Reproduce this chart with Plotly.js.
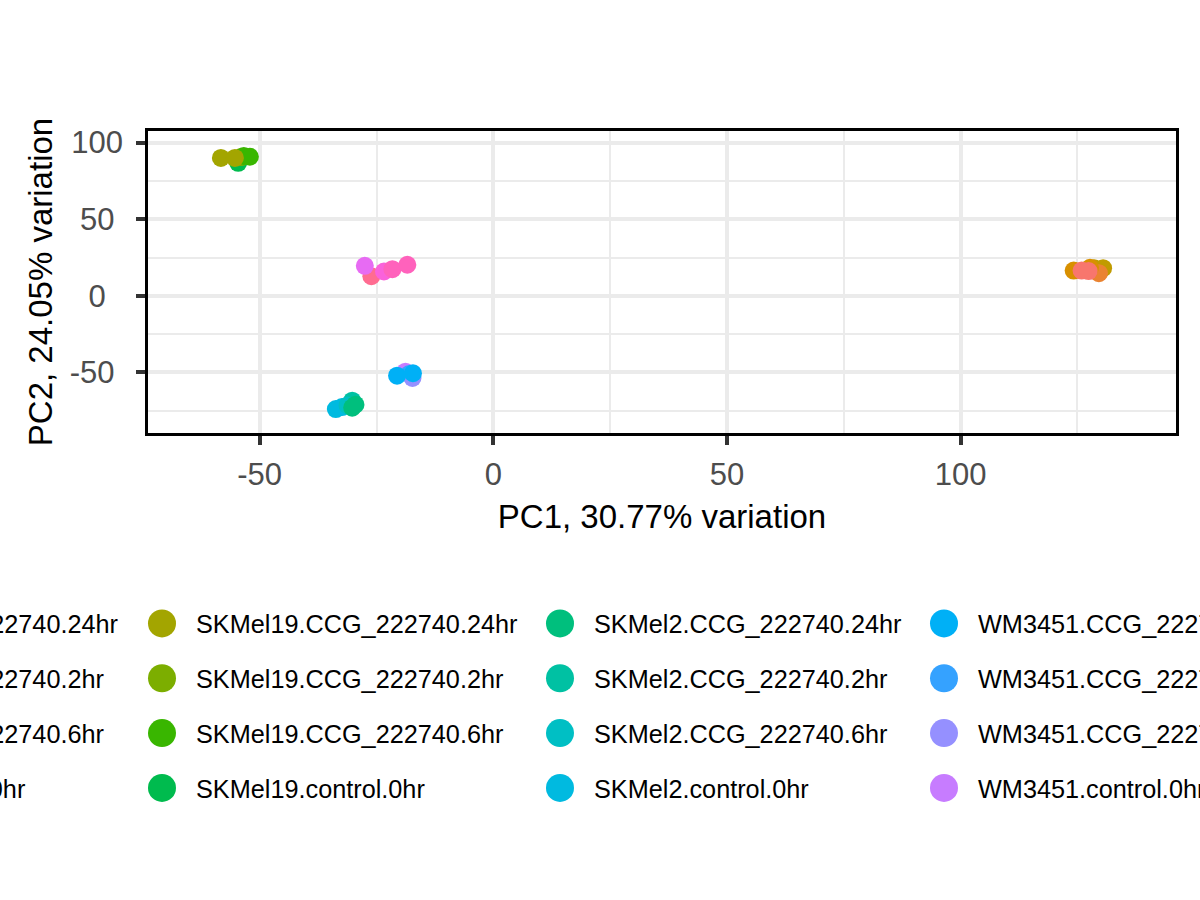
<!DOCTYPE html>
<html>
<head>
<meta charset="utf-8">
<script src="https://cdn.plot.ly/plotly-3.0.1.min.js"></script>
<style>
  html, body { margin: 0; padding: 0; background: #fff; overflow: hidden; }
  /* the figure is wider than the window so the outer legend columns run off both edges */
  #plot { width: 2200px; height: 900px; margin-left: -300px; }
</style>
</head>
<body>
<div id="plot"></div>
<script>
// PCA biplot: PC1 vs PC2, one colour per cell line / treatment group

var cellLines = ["A375", "SKMel19", "SKMel2", "WM3451", "WM793"];
var conditions = ["CCG_222740.24hr", "CCG_222740.2hr", "CCG_222740.6hr", "control.0hr"];

// ggplot hue palette, in legend order (cell line, then condition)
var groupColours = [
  "#F8766D", "#EA8331", "#D89000", "#C09B00",
  "#A3A500", "#7CAE00", "#39B600", "#00BB4E",
  "#00BF7D", "#00C1A3", "#00BFC4", "#00BAE0",
  "#00B0F6", "#35A2FF", "#9590FF", "#C77CFF",
  "#E76BF3", "#FA62DB", "#FF62BC", "#FF6C91"
];

// conditions in the order the points are drawn (first = bottom)
var drawOrder = ["control.0hr", "CCG_222740.2hr", "CCG_222740.6hr", "CCG_222740.24hr"];

// per-sample scores
var sampleGroup = [
  "A375.control.0hr", "A375.control.0hr", "SKMel19.control.0hr",
  "SKMel2.control.0hr", "SKMel2.control.0hr", "WM3451.control.0hr", "WM793.control.0hr",
  "A375.CCG_222740.2hr", "SKMel19.CCG_222740.2hr", "SKMel2.CCG_222740.2hr",
  "WM3451.CCG_222740.2hr", "WM793.CCG_222740.2hr",
  "A375.CCG_222740.6hr", "A375.CCG_222740.6hr", "SKMel19.CCG_222740.6hr", "SKMel19.CCG_222740.6hr",
  "SKMel2.CCG_222740.6hr", "WM3451.CCG_222740.6hr", "WM793.CCG_222740.6hr", "WM793.CCG_222740.6hr",
  "A375.CCG_222740.24hr", "A375.CCG_222740.24hr", "SKMel19.CCG_222740.24hr", "SKMel19.CCG_222740.24hr",
  "SKMel2.CCG_222740.24hr", "SKMel2.CCG_222740.24hr", "WM3451.CCG_222740.24hr", "WM3451.CCG_222740.24hr",
  "WM793.CCG_222740.24hr"
];
var pc1 = [
  130.5, 128.6, -54.6,
  -33.7, -32.4, -18.8, -26.1,
  129.6, -54.0, -30.2,
  -18.0, -23.4,
  124.2, 127.7, -53.4, -52.1,
  -31.2, -17.3, -21.6, -18.4,
  125.9, 127.4, -58.3, -55.3,
  -30.2, -29.5, -20.6, -17.2,
  -27.5
];
var pc2 = [
  18.1, 18.0, 86.8,
  -73.9, -72.6, -49.5, 12.8,
  14.8, 90.6, -68.4,
  -51.0, 15.9,
  16.5, 18.3, 91.3, 90.8,
  -71.5, -53.6, 17.4, 20.3,
  16.5, 16.2, 90.0, 90.0,
  -73.0, -71.0, -52.1, -50.5,
  19.6
];

var xTicks = [-50, 0, 50, 100];
var xTickText = ["-50", "0", "50", "100"];
var yTicks = [-50, 0, 50, 100];
// trailing no-break spaces mimic ggplot's centred y labels
var yTickText = ["-50\u00A0", "0\u00A0\u00A0", "50\u00A0", "100"];

var FONT = "Liberation Sans, Arial, Helvetica, sans-serif";
var SHIFT = 300;       // px of figure hidden left of the window
var FIG_W = 2200;
var M = { l: 148 + SHIFT, r: 24 + (FIG_W - 1200 - SHIFT), t: 131, b: 467 };
var PLOT_W = FIG_W - M.l - M.r;
var PLOT_H = 900 - M.t - M.b;

// one legend per cell line (ggplot fills its legend column by column)
var legendX = [-194, 162, 560, 944, 1332];  // key centre, window px
var legendTop = 600.5;                       // window px
var legendIds = ["legend", "legend2", "legend3", "legend4", "legend5"];

var traces = [];
drawOrder.forEach(function (cond) {
  cellLines.forEach(function (cell, ci) {
    var group = cell + "." + cond;
    var k = ci * conditions.length + conditions.indexOf(cond);
    var xs = [], ys = [];
    sampleGroup.forEach(function (g, i) {
      if (g === group) { xs.push(pc1[i]); ys.push(pc2[i]); }
    });
    traces.push({
      x: xs,
      y: ys,
      type: "scatter",
      mode: "markers",
      name: "\u00A0\u00A0" + group,
      legend: legendIds[ci],
      legendgroup: group,
      legendrank: conditions.indexOf(cond) + 1,
      marker: { color: groupColours[k], size: 18 },
      hoverinfo: "x+y+name"
    });
  });
});

var layout = {
  width: FIG_W,
  height: 900,
  paper_bgcolor: "#fff",
  plot_bgcolor: "#fff",
  font: { family: FONT, color: "#000" },
  margin: { l: M.l, r: M.r, t: M.t, b: M.b, autoexpand: false },
  showlegend: true,
  xaxis: {
    range: [-73.9, 146.1],
    tickvals: xTicks,
    ticktext: xTickText,
    ticks: "outside",
    ticklen: 9,
    tickwidth: 3.5,
    tickcolor: "#333333",
    ticklabelstandoff: 3,
    tickfont: { size: 31, color: "#4D4D4D" },
    showgrid: true,
    gridcolor: "#EBEBEB",
    gridwidth: 3.5,
    minor: { tickvals: [-75, -25, 25, 75, 125], showgrid: true, gridcolor: "#EBEBEB", gridwidth: 1.8 },
    zeroline: false,
    showline: true,
    mirror: true,
    linecolor: "#000",
    linewidth: 2.5,
    title: { text: "PC1, 30.77% variation", font: { size: 33, color: "#000" }, standoff: 14 }
  },
  yaxis: {
    range: [-89.5, 107.6],
    tickvals: yTicks,
    ticktext: yTickText,
    ticks: "outside",
    ticklen: 9,
    tickwidth: 3.5,
    tickcolor: "#333333",
    ticklabelstandoff: 7,
    tickfont: { size: 31, color: "#4D4D4D" },
    showgrid: true,
    gridcolor: "#EBEBEB",
    gridwidth: 3.5,
    minor: { tickvals: [-75, -25, 25, 75], showgrid: true, gridcolor: "#EBEBEB", gridwidth: 1.8 },
    zeroline: false,
    showline: true,
    mirror: true,
    linecolor: "#000",
    linewidth: 2.5,
    title: { text: "PC2, 24.05% variation", font: { size: 33, color: "#000" }, standoff: 8 }
  }
};

legendIds.forEach(function (id, ci) {
  layout[id] = {
    x: (legendX[ci] - 20 + SHIFT - M.l) / PLOT_W,
    xanchor: "left",
    y: (900 - M.b - legendTop) / PLOT_H,
    yanchor: "top",
    orientation: "v",
    bgcolor: "rgba(0,0,0,0)",
    borderwidth: 0,
    tracegroupgap: 19,
    font: { family: FONT, size: 25.25, color: "#000" }
  };
});

Plotly.newPlot("plot", traces, layout, { displayModeBar: false }).then(function (gd) {
  // ggplot draws bigger legend keys than Plotly allows; scale them up
  gd.querySelectorAll(".legendpoints path.scatterpts").forEach(function (p) {
    p.setAttribute("transform", "translate(20,0) scale(1.75)");
  });
});
</script>
</body>
</html>
